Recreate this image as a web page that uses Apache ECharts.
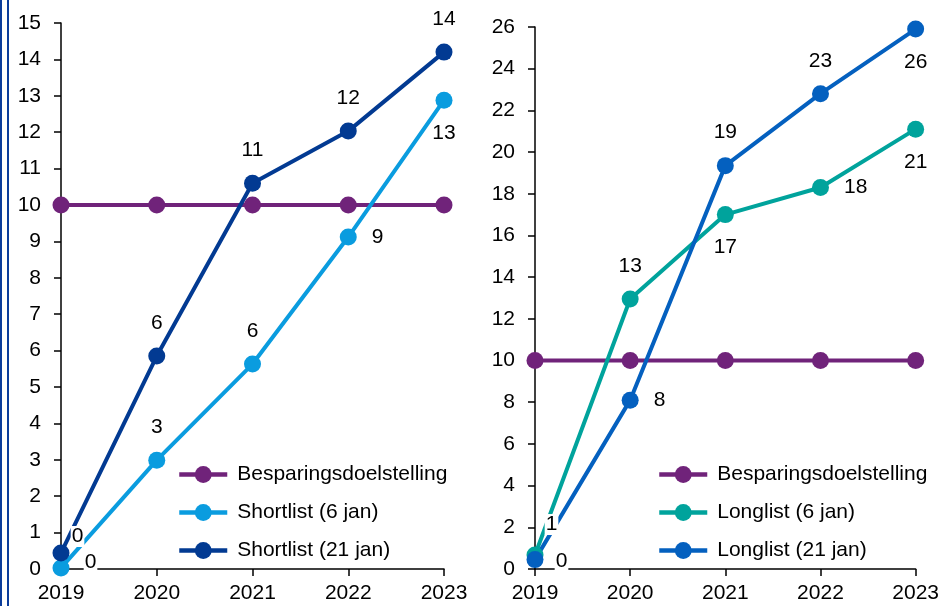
<!DOCTYPE html>
<html>
<head>
<meta charset="utf-8">
<script src="https://cdn.jsdelivr.net/npm/echarts@6/dist/echarts.min.js"></script>
<style>
  html, body { margin: 0; padding: 0; background: #fff; }
  #chart { width: 942px; height: 606px; }
</style>
</head>
<body>
<div id="chart"></div>
<script>
// Years on both horizontal axes
const years = ['2019', '2020', '2021', '2022', '2023'];

// Left panel: shortlist
const shortTarget = [10, 10, 10, 10, 10];
const shortlist6 = [0.03, 2.99, 5.63, 9.12, 12.88];
const shortlist21 = [0.44, 5.85, 10.6, 12.03, 14.2];

// Right panel: longlist
const longTarget = [10, 10, 10, 10, 10];
const longlist6 = [0.67, 12.95, 17.0, 18.3, 21.1];
const longlist21 = [0.45, 8.1, 19.35, 22.8, 25.9];

// Legend names
const nameTarget = 'Besparingsdoelstelling';
const nameShort6 = 'Shortlist (6 jan)';
const nameShort21 = 'Shortlist (21 jan)';
const nameLong6 = 'Longlist (6 jan)';
const nameLong21 = 'Longlist (21 jan)';

// Label placement per point (style only)
const placeShort6 = [[38, 3], 'top', 'top', 'right', 'bottom'];
const placeShort21 = [[25, -8], 'top', 'top', 'top', 'top'];
const placeLong6 = [[25, -22], 'top', 'bottom', 'right', 'bottom'];
const placeLong21 = [[35, 10], 'right', 'top', 'top', 'bottom'];

const FONT = '"Liberation Sans", Arial, sans-serif';
const C = {
  target: '#70237A',
  short6: '#0A9CDF',
  short21: '#023A92',
  long6: '#00A39C',
  long21: '#0460BF',
  border: '#0B3C9A'
};

function labelled(values, places) {
  return values.map((v, i) => {
    const p = places[i];
    const label = Array.isArray(p)
      ? { position: p, align: 'center', verticalAlign: 'middle' }
      : { position: p };
    return { value: v, label: label };
  });
}

const labelBase = {
  show: true,
  formatter: (p) => String(Math.round(p.value)),
  color: '#000',
  fontFamily: FONT,
  fontSize: 21,
  distance: 14,
  backgroundColor: '#fff',
  padding: [0, 1]
};

function lineSeries(name, data, color, xi, withLabels) {
  return {
    type: 'line',
    name: name,
    xAxisIndex: xi,
    yAxisIndex: xi,
    data: data,
    symbol: 'circle',
    symbolSize: 17,
    lineStyle: { color: color, width: 4 },
    itemStyle: { color: color },
    label: withLabels ? labelBase : { show: false },
    emphasis: { disabled: true },
    animation: false
  };
}

function xAxis(gi) {
  return {
    type: 'category',
    gridIndex: gi,
    data: years,
    boundaryGap: false,
    axisLine: { lineStyle: { color: '#000', width: 1.5 } },
    axisTick: { show: true, alignWithLabel: true, length: 7, lineStyle: { color: '#000', width: 1.5 } },
    axisLabel: { color: '#000', fontFamily: FONT, fontSize: 21, margin: 14 },
    splitLine: { show: false }
  };
}

function yAxis(gi, max, interval) {
  return {
    type: 'value',
    gridIndex: gi,
    min: 0,
    max: max,
    interval: interval,
    axisLine: { show: true, lineStyle: { color: '#000', width: 1.5 } },
    axisTick: { show: true, length: 7, lineStyle: { color: '#000', width: 1.5 } },
    axisLabel: { color: '#000', fontFamily: FONT, fontSize: 21, margin: 20 },
    splitLine: { show: false }
  };
}

function legend(left, names) {
  return {
    orient: 'vertical',
    left: left,
    top: 464,
    padding: 0,
    data: names,
    itemWidth: 48,
    itemHeight: 21,
    itemGap: 17,
    lineStyle: { width: 4.5 },
    textStyle: { color: '#000', fontFamily: FONT, fontSize: 21, padding: [0, 0, 0, 5] },
    selectedMode: false
  };
}

const chart = echarts.init(document.getElementById('chart'), null, { renderer: 'canvas' });

chart.setOption({
  animation: false,
  backgroundColor: '#fff',
  grid: [
    { left: 61, right: 498, top: 23, bottom: 37 },
    { left: 535, right: 26, top: 27, bottom: 37 }
  ],
  xAxis: [xAxis(0), xAxis(1)],
  yAxis: [yAxis(0, 15, 1), yAxis(1, 26, 2)],
  legend: [
    legend(177, [nameTarget, nameShort6, nameShort21]),
    legend(657, [nameTarget + ' ', nameLong6, nameLong21])
  ],
  series: [
    lineSeries(nameTarget, shortTarget, C.target, 0, false),
    lineSeries(nameShort6, labelled(shortlist6, placeShort6), C.short6, 0, true),
    lineSeries(nameShort21, labelled(shortlist21, placeShort21), C.short21, 0, true),
    lineSeries(nameTarget + ' ', longTarget, C.target, 1, false),
    lineSeries(nameLong6, labelled(longlist6, placeLong6), C.long6, 1, true),
    lineSeries(nameLong21, labelled(longlist21, placeLong21), C.long21, 1, true)
  ],
  graphic: [
    { type: 'rect', shape: { x: 0, y: 0, width: 2, height: 606 }, style: { fill: C.border }, silent: true },
    { type: 'rect', shape: { x: 7, y: 0, width: 2, height: 606 }, style: { fill: C.border }, silent: true }
  ]
});
</script>
</body>
</html>
